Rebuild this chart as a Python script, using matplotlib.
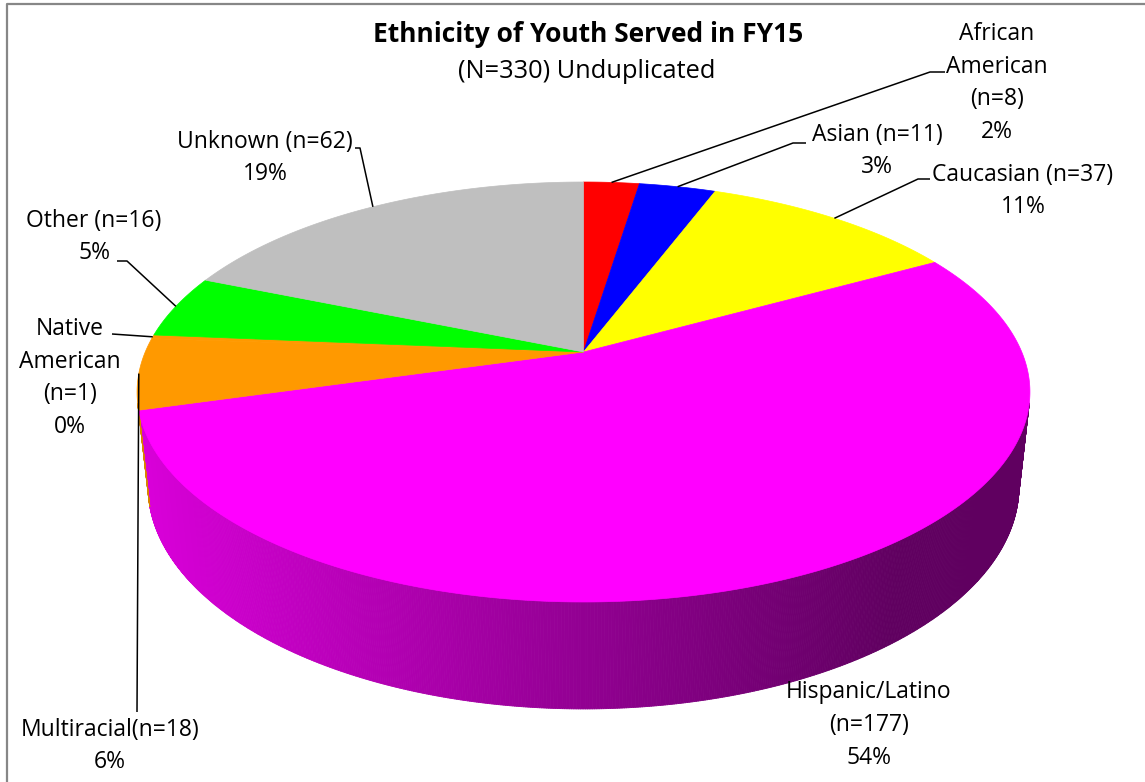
import numpy as np
import matplotlib
matplotlib.use("Agg")
import matplotlib.pyplot as plt
from matplotlib.collections import PolyCollection
from matplotlib.patches import Polygon

plt.rcParams['font.family'] = ['Open Sans', 'DejaVu Sans']

# slice data, clockwise from 12 o'clock
names = ["African\nAmerican\n", "Asian ", "Caucasian ", "Hispanic/Latino\n",
         "Multiracial", "Native\nAmerican\n", "Other ", "Unknown "]
counts = [8, 11, 37, 177, 18, 1, 16, 62]
pct_text = ["2%", "3%", "11%", "54%", "6%", "0%", "5%", "19%"]
colors = ["#ff0000", "#0000ff", "#ffff00", "#ff00ff",
          "#ff9900", "#ff9900", "#00ff00", "#bfbfbf"]

title = "Ethnicity of Youth Served in FY15"
subtitle = "(N=330) Unduplicated"

# label block centres and leader elbows (pixels)
label_xy = [(997, 83), (877, 151), (1023, 191), (869, 725),
            (110, 746), (70, 378), (94, 237), (265, 158)]
leader_pts = [[(930, 72), (945, 72)], [(793, 143), (806, 143)],
              [(918, 179), (930, 179)], None,
              [(137, 712)], [(112, 334)],
              [(127, 261), (117, 261)], [(360, 148), (355, 148)]]

W, H = 1145, 782
fig = plt.figure(figsize=(W / 100, H / 100), dpi=100)
ax = fig.add_axes([0, 0, 1, 1])
ax.set_xlim(0, W)
ax.set_ylim(H, 0)
ax.axis('off')

# perspective camera for the tilted pie
CX, CY = 583.5, 352
FOCAL = 2041.0
DIST = 4.657
ELEV = np.radians(27.5)
THICK = 0.245


def project(theta, z=0.0):
    t = np.radians(theta)
    x, y = np.sin(t), np.cos(t)
    depth = DIST + y * np.cos(ELEV) - z * np.sin(ELEV)
    sx = FOCAL * x / depth
    sy = FOCAL * (y * np.sin(ELEV) + z * np.cos(ELEV)) / depth
    return CX + sx, CY - sy


def shade(color, x):
    rgb = np.array(matplotlib.colors.to_rgb(color))
    f = np.interp(x, [140, 900], [0.85, 0.376])
    return tuple(rgb * f)


total = sum(counts)
edges = np.concatenate([[0], np.cumsum(counts)]) / total * 360.0

# outer wall, only the part facing the camera
limit = -1.0 / (DIST * np.cos(ELEV))
quads, qcols = [], []
for a0, a1, col in zip(edges[:-1], edges[1:], colors):
    ts = np.linspace(a0, a1, max(int((a1 - a0) / 0.25), 2))
    for ta, tb in zip(ts[:-1], ts[1:]):
        tm = 0.5 * (ta + tb)
        if np.cos(np.radians(tm)) >= limit:
            continue
        p1, p2 = project(ta), project(tb)
        p3, p4 = project(tb, -THICK), project(ta, -THICK)
        quads.append([p1, p2, p3, p4])
        qcols.append(shade(col, 0.5 * (p1[0] + p2[0])))
ax.add_collection(PolyCollection(quads, facecolors=qcols, edgecolors=qcols,
                                 linewidths=0.6))

# top faces
for a0, a1, col in zip(edges[:-1], edges[1:], colors):
    ts = np.linspace(a0, a1, max(int((a1 - a0) * 2), 2))
    pts = [(CX, CY)] + [project(t) for t in ts]
    ax.add_patch(Polygon(pts, closed=True, facecolor=col, edgecolor=col,
                         linewidth=0.5))

# labels and leader lines
for i in range(len(counts)):
    txt = f"{names[i]}(n={counts[i]})\n{pct_text[i]}"
    lx, ly = label_xy[i]
    ax.text(lx, ly, txt, ha='center', va='center', fontsize=16.5,
            linespacing=1.48, color='black')
    if leader_pts[i] is not None:
        mid = 0.5 * (edges[i] + edges[i + 1])
        pts = [project(mid)] + leader_pts[i]
        xs, ys = zip(*pts)
        ax.plot(xs, ys, color='black', lw=1.1, solid_capstyle='butt')

ax.text(588, 35, title, ha='center', va='center', fontsize=19,
        fontweight='bold')
ax.text(587, 71, subtitle, ha='center', va='center', fontsize=18.3)

# chart frame
ax.plot([7, 7, W + 5], [H + 5, 4, 4], color='#878787', lw=1.6)

fig.savefig("out.png", dpi=100)
